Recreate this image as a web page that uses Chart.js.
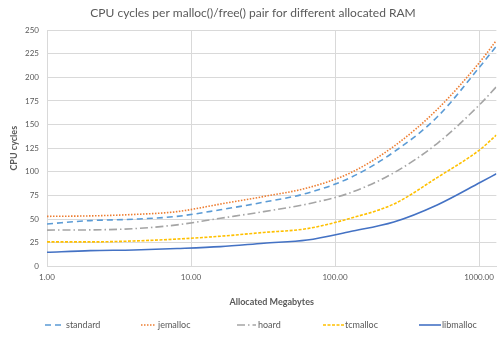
<!DOCTYPE html>
<html>
<head>
<meta charset="utf-8">
<script src="https://cdn.jsdelivr.net/npm/chart.js@4/dist/chart.umd.min.js"></script>
<style>
  body { margin: 0; background: #fff; }
  canvas { display: block; }
</style>
</head>
<body>
<canvas id="chart" width="500" height="338"></canvas>
<script>
// allocated megabytes (x) and cycles per malloc/free pair for each allocator
var megabytes = [1, 2, 4, 8, 16, 32, 64, 128, 256, 512, 1024, 1320];
var standard  = [45, 48.5, 50, 53, 60, 68, 77.5, 94, 121, 158, 212, 233];
var jemalloc  = [53, 53.5, 55, 58, 66, 74, 83, 99, 127, 166, 217, 239];
var hoard     = [38.5, 38.7, 40, 44, 51, 58, 66, 78, 99, 130, 172, 190];
var tcmalloc  = [26, 26, 27, 29, 32, 36, 40, 51, 66, 94, 124, 139];
var libmalloc = [15, 16.8, 17.5, 19, 21, 24.6, 28, 37, 47, 65, 89, 98];
var xTicks = [1, 10, 100, 1000];

function points(values) {
    return values.map(function (v, i) { return { x: megabytes[i], y: v }; });
}

function series(label, values, color, dash) {
    return {
        label: label,
        data: points(values),
        borderColor: color,
        backgroundColor: color,
        borderWidth: 1.6,
        borderDash: dash,
        pointRadius: 0,
        cubicInterpolationMode: 'monotone',
        fill: false
    };
}

var font = 'Lato, "Open Sans", sans-serif';
var grey = '#595959';

// legend row along the bottom: sample line start/end and text start per item
var legendLayout = {
    y: 325,
    sampleStart: [45, 141, 237, 323, 419],
    sampleEnd: [61, 156, 256, 344, 441],
    textX: [66, 158, 258, 345, 442]
};

var bottomLegend = {
    id: 'bottomLegend',
    afterDraw: function (chart) {
        var ctx = chart.ctx;
        ctx.save();
        ctx.font = '9px ' + font;
        ctx.textBaseline = 'middle';
        chart.data.datasets.forEach(function (ds, i) {
            ctx.beginPath();
            ctx.strokeStyle = ds.borderColor;
            ctx.lineWidth = 1.6;
            ctx.setLineDash(ds.borderDash);
            ctx.moveTo(legendLayout.sampleStart[i], legendLayout.y);
            ctx.lineTo(legendLayout.sampleEnd[i], legendLayout.y);
            ctx.stroke();
            ctx.setLineDash([]);
            ctx.fillStyle = grey;
            ctx.fillText(ds.label, legendLayout.textX[i], legendLayout.y);
        });
        ctx.restore();
    }
};

new Chart(document.getElementById('chart'), {
    type: 'line',
    data: {
        datasets: [
            series('standard', standard, '#5b9bd5', [6, 4]),
            series('jemalloc', jemalloc, '#ed7d31', [1.5, 1.5]),
            series('hoard', hoard, '#a5a5a5', [8, 3, 1.5, 3]),
            series('tcmalloc', tcmalloc, '#ffc000', [3, 1.5]),
            series('libmalloc', libmalloc, '#4472c4', [])
        ]
    },
    plugins: [bottomLegend],
    options: {
        responsive: false,
        animation: false,
        layout: { padding: { left: 9, right: 3, top: 0, bottom: 26.6 } },
        plugins: {
            title: {
                display: true,
                text: 'CPU cycles per malloc()/free() pair for different allocated RAM',
                color: grey,
                font: { family: font, size: 12, weight: 'normal' },
                padding: { top: 6, bottom: 9.6 }
            },
            legend: { display: false },
            tooltip: { enabled: false }
        },
        scales: {
            x: {
                type: 'logarithmic',
                min: 1,
                max: 1320,
                afterBuildTicks: function (scale) {
                    scale.ticks = xTicks.map(function (v) { return { value: v }; });
                },
                afterFit: function (scale) { scale.height = 44.9; },
                ticks: {
                    color: grey,
                    font: { family: font, size: 8 },
                    maxRotation: 0,
                    autoSkip: false,
                    padding: 6,
                    callback: function (v) { return Number(v).toFixed(2); }
                },
                grid: { color: '#d9d9d9', drawTicks: false },
                border: { color: '#d9d9d9' },
                title: {
                    display: true,
                    text: 'Allocated Megabytes',
                    color: grey,
                    font: { family: font, size: 9, weight: 'bold' },
                    padding: { top: 15, bottom: 4 }
                }
            },
            y: {
                min: 0,
                max: 250,
                ticks: {
                    stepSize: 25,
                    color: grey,
                    font: { family: font, size: 8 },
                    padding: 8
                },
                afterFit: function (scale) { scale.width = 38; },
                grid: { color: '#d9d9d9', drawTicks: false },
                border: { color: '#d9d9d9' },
                title: {
                    display: true,
                    text: 'CPU cycles',
                    color: grey,
                    font: { family: font, size: 9, weight: 'bold' },
                    padding: 0
                }
            }
        }
    }
});
</script>
</body>
</html>
